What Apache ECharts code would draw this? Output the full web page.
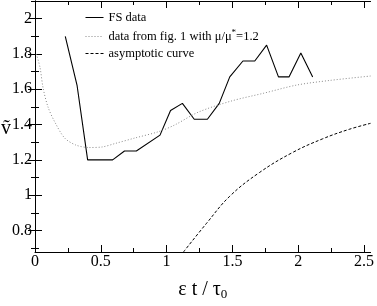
<!DOCTYPE html>
<html><head><meta charset="utf-8">
<script src="https://cdn.jsdelivr.net/npm/echarts@6/dist/echarts.min.js"></script>
<style>html,body{margin:0;padding:0;background:#fff}#c{width:377px;height:306px}</style>
</head><body><div id="c"></div>
<script>
const fsX = [0.23,0.32,0.40,0.59,0.68,0.77,0.95,1.03,1.12,1.21,1.31,1.40,1.48,1.58,1.67,1.76,1.85,1.93,2.02,2.11];
const fsY = [1.90,1.62,1.20,1.20,1.25,1.25,1.34,1.48,1.52,1.43,1.43,1.52,1.67,1.76,1.76,1.85,1.67,1.67,1.805,1.67];
const figX = [0.01,0.038,0.062,0.10,0.15,0.225,0.31,0.41,0.51,0.61,0.76,0.94,1.06,1.24,1.49,1.74,1.99,2.24,2.55];
const figY = [1.80,1.724,1.605,1.497,1.415,1.324,1.284,1.27,1.273,1.293,1.324,1.36,1.397,1.47,1.533,1.578,1.624,1.65,1.675];
const asX = [1.128,1.304,1.48,1.707,1.958,2.185,2.387,2.55];
const asY = [0.678,0.841,0.994,1.129,1.242,1.319,1.373,1.407];
const xMajor = [0,0.5,1,1.5,2,2.5];
const xMinor = [0.25,0.75,1.25,1.75,2.25];
const yMajor = [0.8,1,1.2,1.4,1.6,1.8,2];
const yMinor = [0.7,0.9,1.1,1.3,1.5,1.7,1.9,2.1];
const xRange = [0,2.55];
const yRange = [0.678,2.1];
const seriesNames = ['FS data','data from fig. 1 with μ/μ*=1.2','asymptotic curve'];

const zip = (a,b)=>a.map((v,i)=>[v,b[i]]);
const serif = '"Liberation Serif","DejaVu Serif",serif';
const black = {color:'#000',width:1};
function xAx(pos, vals, len, withLabel, showLine){
  const o = {type:'value',position:pos,min:xRange[0],max:xRange[1],
    axisLine:{show:showLine,lineStyle:black},
    axisTick:{show:true,inside:true,length:len,customValues:vals,lineStyle:black},
    splitLine:{show:false},
    axisLabel:{show:false}};
  if(withLabel){
    o.axisLabel={show:true,customValues:xMajor,formatter:v=>String(v),fontFamily:serif,fontSize:16,color:'#000',margin:2};
    o.name='ε t / τ{sub|0}'; o.nameLocation='middle'; o.nameGap=26;
    o.nameTextStyle={fontFamily:serif,fontSize:20,color:'#000',
      rich:{sub:{fontFamily:serif,fontSize:13,verticalAlign:'bottom',padding:[10,0,0,0],color:'#000'}}};
  }
  return o;
}
function yAx(pos, vals, len, withLabel, showLine){
  const o = {type:'value',position:pos,min:yRange[0],max:yRange[1],
    axisLine:{show:showLine,lineStyle:black},
    axisTick:{show:true,inside:true,length:len,customValues:vals,lineStyle:black},
    splitLine:{show:false},
    axisLabel:{show:false}};
  if(withLabel){
    o.axisLabel={show:true,customValues:yMajor,formatter:v=>String(v),fontFamily:serif,fontSize:16,color:'#000',margin:3};
  }
  return o;
}
const chart = echarts.init(document.getElementById('c'));
chart.setOption({
  animation:false,
  grid:{left:35,right:4,top:1,bottom:43},
  legend:{
    orient:'vertical', left:80, top:6, itemGap:4, itemWidth:18, itemHeight:10,
    data:seriesNames,
    itemStyle:{opacity:0},
    lineStyle:{width:1},
    formatter:function(n){return n===seriesNames[1]?'data from fig. 1 with μ/μ{sup|*}=1.2':n;},
    textStyle:{fontFamily:serif,fontSize:12.5,color:'#000',
      rich:{sup:{fontFamily:serif,fontSize:9,verticalAlign:'top',padding:[0,0,8,0],color:'#000'}}}
  },
  xAxis:[xAx('bottom',xMajor,7,true,true),xAx('bottom',xMinor,4,false,false),
         xAx('top',xMajor,7,false,true),xAx('top',xMinor,4,false,false)],
  yAxis:[yAx('left',yMajor,7,true,true),yAx('left',yMinor,4,false,false),
         yAx('right',yMajor,7,false,true),yAx('right',yMinor,4,false,false)],
  graphic:[{type:'text',left:1,top:119,style:{text:'ṽ',font:'20px '+serif,fill:'#000'}}],
  series:[
    {name:seriesNames[0],type:'line',data:zip(fsX,fsY),symbol:'none',clip:true,
      lineStyle:{color:'#000',width:1.1,type:'solid'},itemStyle:{color:'#000'}},
    {name:seriesNames[1],type:'line',data:zip(figX,figY),symbol:'none',smooth:0.3,clip:true,
      lineStyle:{color:'#888',width:1,type:[1,2]},itemStyle:{color:'#888'}},
    {name:seriesNames[2],type:'line',data:zip(asX,asY),symbol:'none',smooth:0.4,clip:true,
      lineStyle:{color:'#000',width:1,type:[3,2]},itemStyle:{color:'#000'}}
  ]
});
</script></body></html>
